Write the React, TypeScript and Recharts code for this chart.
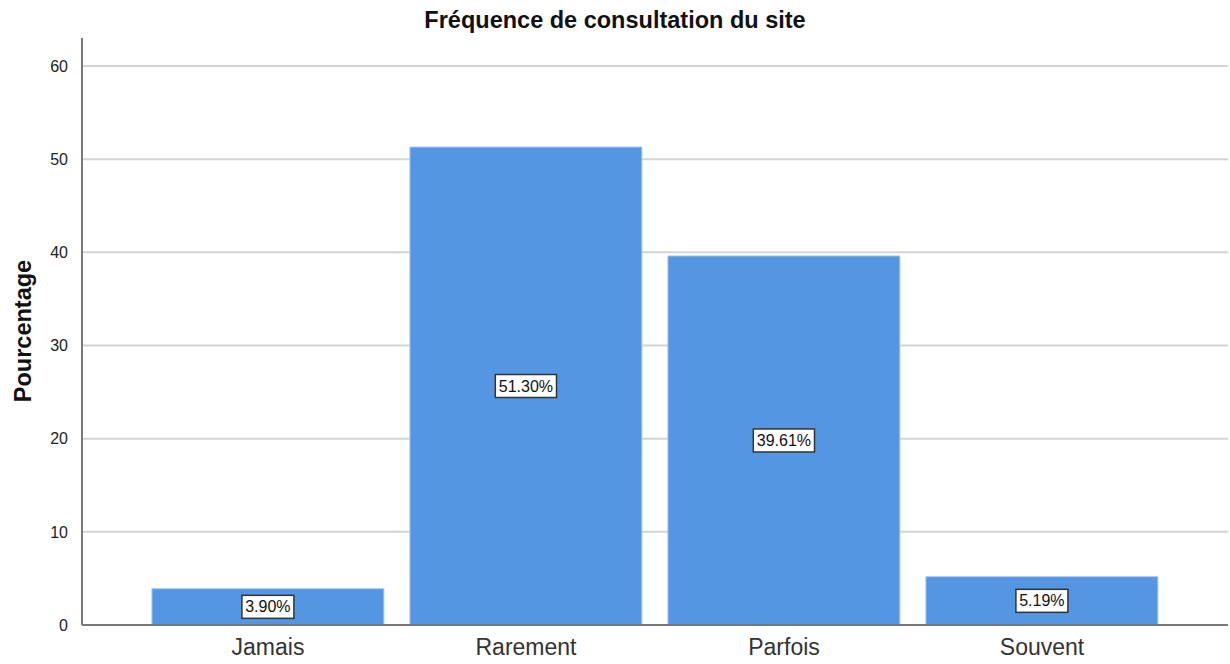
import { Bar, BarChart, CartesianGrid, LabelList, XAxis, YAxis } from "recharts"

const categories = ["Jamais", "Rarement", "Parfois", "Souvent"]
const percentages = [3.9, 51.3, 39.61, 5.19]
const yTicks = [0, 10, 20, 30, 40, 50, 60]

const data = categories.map((name, i) => ({ name, value: percentages[i] }))

const font = "'Liberation Sans', Arial, sans-serif"

function BoxLabel(props: any) {
  const { x, y, width, height, value } = props
  const cx = Number(x) + Number(width) / 2
  const cy = Number(y) + Number(height) / 2
  const text = `${Number(value).toFixed(2)}%`
  const w = text.length * 9.2 + 6
  const h = 23
  return (
    <g>
      <rect x={cx - w / 2} y={cy - h / 2} width={w} height={h} fill="#fff" stroke="#333" strokeWidth={1.5} />
      <text x={cx} y={cy + 5.5} textAnchor="middle" fontSize={16} fontFamily={font} fill="#111">
        {text}
      </text>
    </g>
  )
}

export default function App() {
  return (
    <div style={{ position: "absolute", left: 0, top: 0, width: 1230, height: 664, background: "#fff", fontFamily: font }}>
      <div style={{ position: "absolute", top: 7, width: 1230, textAlign: "center", fontWeight: "bold", fontSize: 23.5, color: "#111" }}>
        Fréquence de consultation du site
      </div>
      <div
        style={{
          position: "absolute",
          left: 23,
          top: 331,
          transform: "translate(-50%, -50%) rotate(-90deg)",
          fontWeight: "bold",
          fontSize: 23.5,
          color: "#111",
          whiteSpace: "nowrap"
        }}
      >
        Pourcentage
      </div>
      <BarChart
        width={1230}
        height={664}
        data={data}
        margin={{ top: 38, right: 2, bottom: 0, left: 0 }}
        barCategoryGap="5%"
      >
        <CartesianGrid vertical={false} horizontalValues={yTicks.slice(1)} stroke="#d4d4d4" strokeWidth={2} />
        <XAxis
          dataKey="name"
          padding={{ left: 57, right: 57 }}
          height={39}
          tickLine={false}
          axisLine={{ stroke: "#7a7a7a", strokeWidth: 2 }}
          tick={{ fontSize: 23, fill: "#333", fontFamily: font }}
          tickMargin={8}
        />
        <YAxis
          domain={[0, 63]}
          ticks={yTicks}
          width={82}
          tickLine={false}
          axisLine={{ stroke: "#7a7a7a", strokeWidth: 2 }}
          tick={{ fontSize: 16, fill: "#222", fontFamily: font }}
          tickMargin={8}
          allowDataOverflow
        />
        <Bar dataKey="value" fill="#5596e3" stroke="#a9c9f0" strokeWidth={1} isAnimationActive={false}>
          <LabelList dataKey="value" content={BoxLabel} />
        </Bar>
      </BarChart>
    </div>
  )
}
